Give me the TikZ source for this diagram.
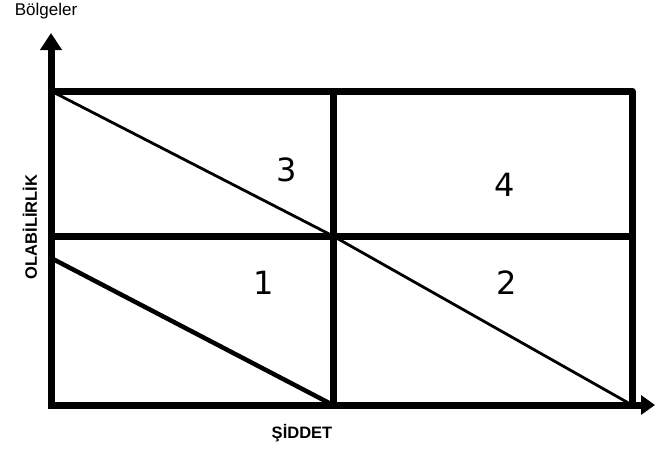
\documentclass[tikz,border=0pt]{standalone}
\usepackage{fontspec}
\setmainfont{Liberation Sans}
\newfontfamily\digitfont{DejaVu Sans}
\usetikzlibrary{arrows.meta, positioning}

\tikzset{
  thickline/.style={line width=7pt, line join=round},
  thinline/.style={line width=2.8pt},
  axisline/.style={line width=7pt, -{Triangle[length=17pt,width=21pt]}},
  zonelabel/.style={font=\digitfont\fontsize{32}{32}\selectfont, inner sep=0pt},
  axislabel/.style={font=\bfseries\fontsize{16.5}{16.5}\selectfont, inner sep=0pt}
}

\begin{document}
\begin{tikzpicture}[x=1pt, y=-1pt]
  \useasboundingbox (0,0) rectangle (657,448);
  % grid points
  \coordinate (O)  at (51,405);
  \coordinate (TL) at (51,91);   \coordinate (TM) at (333,91);  \coordinate (TR) at (632,91);
  \coordinate (ML) at (51,236);  \coordinate (MM) at (333,236); \coordinate (MR) at (632,236);
  \coordinate (LD) at (51,258);  \coordinate (BM) at (333,405); \coordinate (BR) at (632,405);
  \coordinate (ytip) at (51,33); \coordinate (xtip) at (655,405);

  % diagonals
  \draw[thinline] (TL) -- (MM) -- (BR);
  \draw[line width=4.5pt] (LD) -- (BM);

  % grid
  \draw[thickline] (TL) -- (TR) -- (BR);
  \draw[thickline] (ML) -- (MR);
  \draw[thickline] (TM) -- (BM);

  % axes
  \draw[axisline] (O) -- (ytip);
  \draw[axisline, -{Triangle[length=14pt,width=19pt]}] ([xshift=-3.5pt]O) -- (xtip);

  % zones
  \node[zonelabel] (z3) at (287,170) {3};
  \node[zonelabel] (z4) at (505,185) {4};
  \node[zonelabel] (z1) at (264,283) {1};
  \node[zonelabel] (z2) at (507,283) {2};

  % labels
  \node[font=\fontsize{17}{17}\selectfont, inner sep=0pt] (title) at (46,11) {Bölgeler};
  \node[axislabel, rotate=90] (ylab) at (30,227) {OLABİLİRLİK};
  \node[axislabel] (xlab) at (302,433) {ŞİDDET};
\end{tikzpicture}
\end{document}
